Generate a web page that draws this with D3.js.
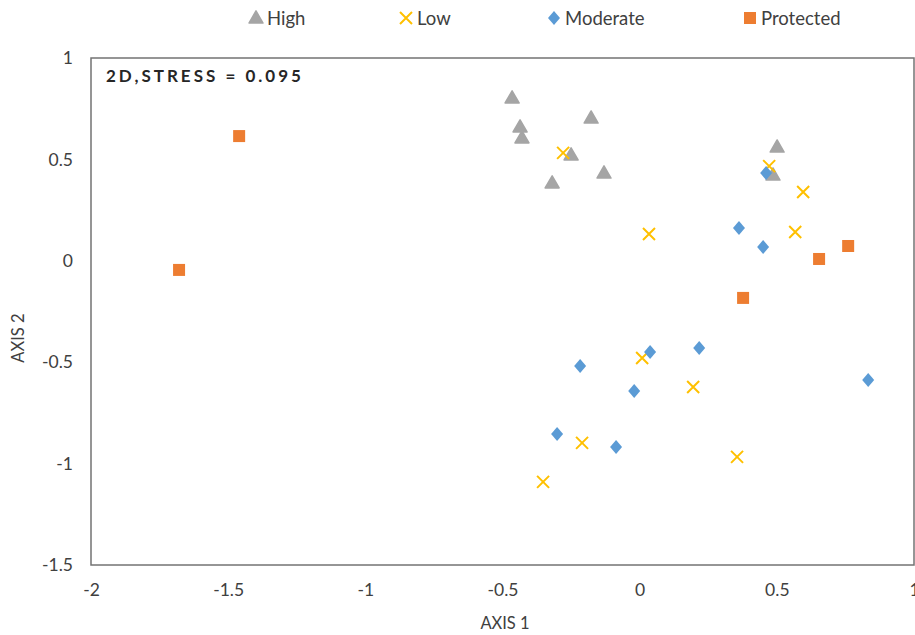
<!DOCTYPE html>
<html>
<head>
<meta charset="utf-8">
<script src="https://cdn.jsdelivr.net/npm/d3@7"></script>
<style>
body { margin: 0; background: #fff; }
text { font-family: Lato, "Open Sans", sans-serif; }
</style>
</head>
<body>
<script>
// NMDS ordination points
var highX = [-0.465, -0.436, -0.429, -0.177, -0.250, -0.130, -0.319, 0.501, 0.486];
var highY = [0.803, 0.660, 0.606, 0.704, 0.522, 0.433, 0.384, 0.561, 0.423];
var lowX = [-0.279, 0.472, 0.596, 0.567, 0.034, 0.009, 0.195, -0.210, 0.355, -0.352];
var lowY = [0.532, 0.467, 0.339, 0.142, 0.132, -0.479, -0.622, -0.898, -0.967, -1.09];
var modX = [0.461, 0.362, 0.450, 0.038, 0.217, -0.217, -0.020, -0.301, -0.086, 0.833];
var modY = [0.433, 0.162, 0.068, -0.450, -0.430, -0.519, -0.642, -0.854, -0.918, -0.588];
var protX = [-1.460, -1.679, 0.760, 0.654, 0.377];
var protY = [0.615, -0.045, 0.073, 0.009, -0.183];

var xTicks = [-2, -1.5, -1, -0.5, 0, 0.5, 1];
var yTicks = [1, 0.5, 0, -0.5, -1, -1.5];
var seriesNames = ["High", "Low", "Moderate", "Protected"];

var W = 915, H = 635;
var margin = {top: 58, right: 1, bottom: 70, left: 91};

var svg = d3.select("body").append("svg")
	.attr("width", W)
	.attr("height", H);

var x = d3.scaleLinear().domain([-2, 1]).range([margin.left, W - margin.right]);
var y = d3.scaleLinear().domain([-1.5, 1]).range([H - margin.bottom, margin.top]);

// frame
svg.append("rect")
	.attr("x", x(-2)).attr("y", y(1))
	.attr("width", x(1) - x(-2)).attr("height", y(-1.5) - y(1))
	.attr("fill", "none")
	.attr("stroke", "#737373")
	.attr("stroke-width", 1.5);

// axes (labels only), plain hyphen for minus like the original
var fmt = function(d) { return String(d); };
var xAxis = svg.append("g")
	.attr("transform", "translate(0," + y(-1.5) + ")")
	.call(d3.axisBottom(x).tickValues(xTicks).tickSize(0).tickPadding(19).tickFormat(fmt));
var yAxis = svg.append("g")
	.attr("transform", "translate(" + x(-2) + ",0)")
	.call(d3.axisLeft(y).tickValues(yTicks).tickSize(0).tickPadding(18).tickFormat(fmt));
[xAxis, yAxis].forEach(function(a) {
	a.select(".domain").remove();
	a.selectAll("text")
		.attr("font-family", "Lato, 'Open Sans', sans-serif")
		.attr("font-size", 17.5)
		.attr("fill", "#404040");
});

// axis titles
svg.append("text")
	.attr("x", 505).attr("y", 629)
	.attr("text-anchor", "middle")
	.attr("font-size", 16.5)
	.attr("fill", "#404040")
	.text("AXIS 1");
svg.append("text")
	.attr("transform", "translate(24,338) rotate(-90)")
	.attr("text-anchor", "middle")
	.attr("font-size", 16.5)
	.attr("fill", "#404040")
	.text("AXIS 2");

// stress note
svg.append("text")
	.attr("x", 106).attr("y", 82)
	.attr("font-size", 17)
	.attr("font-weight", "bold")
	.attr("letter-spacing", 3)
	.attr("fill", "#262626")
	.text("2D,STRESS = 0.095");

var colors = {High: "#a5a5a5", Low: "#ffc000", Moderate: "#5b9bd5", Protected: "#ed7d31"};
var triangle = d3.symbol().type(d3.symbolTriangle).size(85);
var diamond = "M0,-7L6,0L0,7L-6,0Z";

function drawMarker(sel, name) {
	if (name === "High") {
		sel.append("path").attr("d", triangle()).attr("transform", "translate(0,1)")
			.attr("fill", colors.High).attr("stroke", colors.High).attr("stroke-linejoin", "round").attr("stroke-width", 1.5);
	} else if (name === "Low") {
		sel.append("path").attr("d", "M-6,-6L6,6M-6,6L6,-6")
			.attr("stroke", colors.Low).attr("stroke-width", 2).attr("fill", "none");
	} else if (name === "Moderate") {
		sel.append("path").attr("d", diamond).attr("fill", colors.Moderate);
	} else {
		sel.append("rect").attr("x", -6).attr("y", -6).attr("width", 12).attr("height", 12)
			.attr("fill", colors.Protected);
	}
}

function plotSeries(name, xs, ys) {
	var pts = xs.map(function(v, i) { return [v, ys[i]]; });
	svg.append("g").selectAll("g")
		.data(pts)
		.enter()
		.append("g")
		.attr("transform", function(d) { return "translate(" + x(d[0]) + "," + y(d[1]) + ")"; })
		.each(function() { drawMarker(d3.select(this), name); });
}

plotSeries("High", highX, highY);
plotSeries("Low", lowX, lowY);
plotSeries("Moderate", modX, modY);
plotSeries("Protected", protX, protY);

// legend
var legendX = [256, 406, 554, 750];
seriesNames.forEach(function(name, i) {
	var lg = svg.append("g").attr("transform", "translate(" + legendX[i] + ",18)");
	drawMarker(lg, name);
	lg.append("text")
		.attr("x", 11).attr("y", 6.5)
		.attr("font-size", 18.5)
		.attr("fill", "#404040")
		.text(name);
});
</script>
</body>
</html>
